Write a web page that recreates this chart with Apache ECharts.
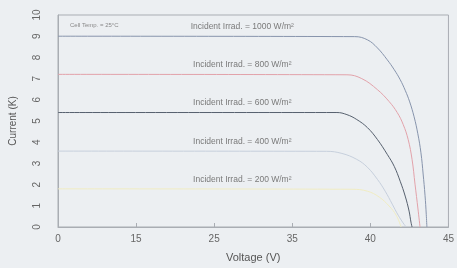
<!DOCTYPE html>
<html>
<head>
<meta charset="utf-8">
<script src="https://cdn.jsdelivr.net/npm/echarts@6/dist/echarts.min.js"></script>
<style>
  html, body { margin: 0; padding: 0; background: #eceff2; }
  #main { width: 457px; height: 268px; }
</style>
</head>
<body>
<div id="main"></div>
<script>
// tick labels on the voltage axis (evenly spaced in the original, not linear)
var xTicks = [0, 15, 25, 35, 40, 45];
var yTicks = [0, 1, 2, 3, 4, 5, 6, 7, 8, 9, 10];

// I-V curves, [voltage (V), current]
var irr1000 = [[0, 9.0], [39.0, 8.98], [39.81, 8.83], [40.45, 8.45], [41.08, 7.89], [41.53, 7.42], [41.91, 6.95], [42.23, 6.45], [42.52, 5.9], [42.8, 5.2], [43.04, 4.4], [43.24, 3.5], [43.38, 2.5], [43.5, 1.5], [43.58, 0.6], [43.62, 0]];
var irr800 = [[0, 7.2], [38.5, 7.18], [39.45, 7.0], [40.45, 6.48], [41.2, 5.92], [41.72, 5.4], [42.1, 4.84], [42.42, 4.13], [42.67, 3.19], [42.86, 2.02], [43.05, 0.85], [43.18, 0]];
var irr600 = [[0, 5.4], [37.86, 5.4], [38.5, 5.3], [39.13, 5.07], [39.81, 4.69], [40.45, 4.13], [41.08, 3.43], [41.53, 2.86], [41.91, 2.16], [42.23, 1.46], [42.48, 0.75], [42.6, 0.23], [42.67, 0]];
var irr400 = [[0, 3.58], [37.2, 3.57], [38.18, 3.47], [39.13, 3.19], [39.81, 2.82], [40.45, 2.25], [40.95, 1.69], [41.4, 1.08], [41.78, 0.56], [42.1, 0.19], [42.29, 0]];
var irr200 = [[0, 1.8], [38.82, 1.78], [39.81, 1.69], [40.57, 1.41], [41.2, 0.99], [41.65, 0.56], [41.97, 0]];

var names = ['1000', '800', '600', '400', '200'];
var colors = ['#8794ac', '#e2a2aa', '#56606e', '#c6cfdc', '#f0ecc2'];
var labelV = 28.6;

// voltage -> position on the evenly spaced tick axis
function toAxis(v) {
  for (var i = 0; i < xTicks.length - 1; i++) {
    if (v <= xTicks[i + 1]) {
      return i + (v - xTicks[i]) / (xTicks[i + 1] - xTicks[i]);
    }
  }
  return xTicks.length - 1;
}

var myChart = echarts.init(document.getElementById('main'));
var font = 'Liberation Sans';

var series = [irr1000, irr800, irr600, irr400, irr200].map(function(d, k) {
  return {
    name: names[k],
    type: 'line',
    data: d.map(function(p) { return [toAxis(p[0]), p[1]]; }),
    symbol: 'none',
    smooth: 0.4,
    lineStyle: { color: colors[k], width: 1 },
    silent: true,
    markPoint: {
      symbol: 'circle',
      symbolSize: 0,
      data: [{ coord: [toAxis(labelV), d[0][1]] }],
      label: {
        show: true,
        position: 'top',
        distance: 5,
        formatter: 'Incident Irrad. = ' + names[k] + ' W/m²',
        color: '#7a7a7a',
        fontSize: 8.5,
        fontFamily: font
      }
    }
  };
});

var option = {
  backgroundColor: '#eceff2',
  animation: false,
  title: {
    text: 'Cell Temp. = 25°C',
    left: 65,
    top: 17,
    textStyle: { fontSize: 6, color: '#888', fontWeight: 'normal', fontFamily: font }
  },
  grid: {
    left: 58,
    right: 6,
    top: 15,
    bottom: 40,
    show: true,
    borderColor: '#a9adb3',
    borderWidth: 1
  },
  xAxis: {
    type: 'value',
    min: 0,
    max: xTicks.length - 1,
    interval: 1,
    name: 'Voltage (V)',
    nameLocation: 'middle',
    nameGap: 25,
    nameTextStyle: { fontSize: 11, color: '#555', fontFamily: font },
    axisLine: { lineStyle: { color: '#a9adb3' } },
    axisTick: { inside: true, length: 4, lineStyle: { color: '#a9adb3' } },
    splitLine: { show: false },
    axisLabel: {
      color: '#666',
      fontSize: 10,
      margin: 7,
      fontFamily: font,
      formatter: function(v) { return xTicks[Math.round(v)]; }
    }
  },
  yAxis: {
    type: 'value',
    min: 0,
    max: 10,
    interval: 1,
    name: 'Current (K)',
    nameLocation: 'middle',
    nameGap: 40,
    nameTextStyle: { fontSize: 10, color: '#555', fontFamily: font },
    axisLine: { show: true, lineStyle: { color: '#a9adb3' } },
    axisTick: { show: false },
    splitLine: { show: false },
    axisLabel: {
      rotate: 90,
      color: '#666',
      fontSize: 10,
      margin: 16,
      fontFamily: font,
      formatter: function(v) { return yTicks[v]; }
    }
  },
  series: series
};

myChart.setOption(option);
</script>
</body>
</html>
